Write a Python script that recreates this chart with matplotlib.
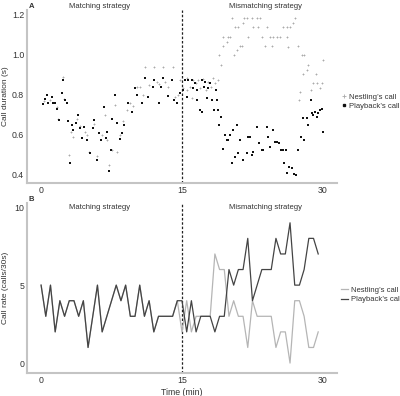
import matplotlib
matplotlib.use("Agg")
from matplotlib import pyplot as plt
from matplotlib.lines import Line2D
import numpy as np

plt.rcParams["font.family"] = ["Liberation Sans", "DejaVu Sans"]

# ---- panel A: call duration (s) ----
playback_t = [0.18, 0.43, 0.6, 0.78, 1.13, 1.31, 1.52, 1.74, 1.91, 2.27, 2.38, 2.55, 2.73, 2.91,
              3.09, 3.26, 3.44, 3.72, 3.97, 4.15, 4.33, 4.57, 4.93, 5.21, 5.5, 5.67, 5.92, 6.13,
              6.35, 6.74, 6.91, 7.06, 7.23, 7.41, 7.59, 7.84, 8.12, 8.4, 8.62, 8.83, 9.22, 9.65,
              10.0, 10.25, 10.71, 11.1, 11.42, 11.88, 12.06, 12.52, 12.73, 13.01, 13.55, 13.9,
              14.15, 14.43, 14.79, 15.07, 15.32, 15.5, 15.67, 16.03, 16.2, 16.38, 16.56, 16.63,
              16.91, 17.09, 17.15, 17.34, 17.45, 17.62, 17.8, 17.98, 18.16, 18.4, 18.62, 18.76,
              18.87, 18.97, 19.11, 19.33, 19.57, 19.75, 19.93, 20.1, 20.28, 20.46, 20.64, 20.82,
              20.99, 21.17, 21.52, 21.88, 22.06, 22.23, 22.41, 22.59, 22.94, 23.23, 23.48, 23.65,
              24.0, 24.18, 24.36, 24.72, 24.89, 25.14, 25.35, 25.5, 25.71, 25.85, 26.06, 26.21,
              26.42, 26.67, 26.91, 27.13, 27.38, 27.62, 27.84, 27.98, 28.26, 28.44, 28.69, 28.79,
              28.97, 29.15, 29.33, 29.5, 29.68, 29.86, 30.04]
playback_dur = [0.755, 0.78, 0.80, 0.76, 0.79, 0.76, 0.76, 0.73, 0.675, 0.81, 0.875, 0.775, 0.76, 0.67,
                0.46, 0.65, 0.625, 0.66, 0.70, 0.635, 0.585, 0.64, 0.575, 0.51, 0.635, 0.675, 0.475, 0.61,
                0.575, 0.74, 0.585, 0.615, 0.42, 0.525, 0.68, 0.80, 0.66, 0.58, 0.61, 0.65, 0.76, 0.715,
                0.835, 0.80, 0.76, 0.885, 0.79, 0.84, 0.875, 0.76, 0.84, 0.885, 0.795, 0.875,
                0.775, 0.76, 0.81, 0.825, 0.875, 0.79, 0.875, 0.875, 0.835, 0.86, 0.775, 0.825,
                0.725, 0.715, 0.875, 0.84, 0.865, 0.785, 0.835, 0.86, 0.775, 0.725, 0.825, 0.775,
                0.725, 0.65, 0.69, 0.53, 0.60, 0.575, 0.575, 0.60, 0.46, 0.625, 0.49, 0.65,
                0.51, 0.575, 0.475, 0.51, 0.59, 0.59, 0.50, 0.517, 0.64, 0.56, 0.525, 0.525,
                0.64, 0.59, 0.54, 0.625, 0.567, 0.567, 0.56, 0.525, 0.525, 0.46, 0.525, 0.41,
                0.44, 0.435, 0.405, 0.40, 0.525, 0.59, 0.685, 0.575, 0.685, 0.65, 0.775, 0.71,
                0.70, 0.717, 0.69, 0.71, 0.725, 0.73, 0.617]

nestling_t = [0.36, 0.96, 1.67, 1.85, 2.38, 2.45, 3.02, 3.19, 3.44, 3.86, 4.15, 4.68, 4.93, 5.14,
              5.67, 5.92, 6.45, 6.81, 7.06, 7.27, 7.52, 7.87, 8.12, 8.4, 8.76, 9.11, 9.47, 9.82,
              10.18, 10.53, 10.82, 11.06, 11.49, 12.02, 12.3, 12.59, 13.01, 13.19, 13.55, 14.01,
              14.26, 14.61, 14.79, 15.14, 15.5, 15.57, 15.85, 16.03, 16.2, 16.49, 16.74, 16.91,
              17.2, 17.55, 17.8, 18.05, 18.33, 18.51, 18.87, 18.97, 19.11, 19.33, 19.4, 19.75,
              19.93, 20.1, 20.28, 20.53, 20.64, 20.82, 20.99, 21.17, 21.35, 21.52, 21.6, 21.88,
              22.06, 22.41, 22.59, 22.94, 23.12, 23.3, 23.48, 23.83, 24.0, 24.36, 24.54, 24.72,
              25.07, 25.43, 25.78, 26.13, 26.21, 26.31, 26.49, 26.84, 27.02, 27.38, 27.48, 27.55,
              27.73, 27.91, 27.98, 28.26, 28.44, 28.69, 28.97, 29.26, 29.33, 29.68, 29.86, 30.04]
nestling_dur = [0.77, 0.775, 0.74, 0.68, 0.89, 0.78, 0.50, 0.615, 0.59, 0.68, 0.645, 0.615, 0.60, 0.515,
                0.655, 0.495, 0.60, 0.70, 0.575, 0.45, 0.525, 0.75, 0.515, 0.60, 0.67, 0.725, 0.76, 0.745,
                0.84, 0.84, 0.80, 0.94, 0.85, 0.94, 0.865, 0.855, 0.94, 0.865, 0.84, 0.94,
                0.79, 0.80, 0.875, 0.835, 0.883, 0.825, 0.84, 0.783, 0.875, 0.86, 0.875, 0.833,
                0.878, 0.825, 0.867, 0.842, 0.883, 0.858, 0.875, 1.0, 0.95, 1.047, 1.092, 1.067,
                1.092, 1.092, 1.183, 1.0, 1.138, 1.025, 1.138, 1.047, 1.047, 1.158, 1.183, 1.183,
                1.092, 1.183, 1.138, 1.183, 1.138, 1.183, 1.092, 1.047, 1.138, 1.092, 1.047, 1.092,
                1.092, 1.092, 1.138, 1.138, 1.092, 1.042, 1.138, 1.158, 1.183, 1.047, 0.775, 0.817,
                1.0, 0.905, 1.0, 0.925, 0.95, 0.825, 0.858, 0.905, 0.858, 0.833, 0.858, 0.975]

# ---- panel B: call rate per 30 s bin ----
rate_time = np.arange(0, 30, 0.5)
nestling_rate = [5, 3, 5, 2, 4, 3, 4, 4, 3, 4, 1, 3, 5, 2, 3, 4, 5, 4, 5, 3,
                 3, 5, 3, 4, 2, 3, 3, 3, 3, 4,
                 2, 4, 2, 3, 3, 3, 3, 7, 6, 6, 3, 4, 3, 3, 1, 4, 3, 3, 3, 3,
                 1, 2, 2, 0, 4, 4, 3, 1, 1, 2]
playback_rate = [5, 3, 5, 2, 4, 3, 4, 4, 3, 4, 1, 3, 5, 2, 3, 4, 5, 4, 5, 3,
                 3, 5, 3, 4, 2, 3, 3, 3, 3, 4,
                 4, 2, 4, 2, 3, 3, 3, 2, 3, 3, 6, 5, 6, 6, 8, 4, 5, 6, 6, 6,
                 8, 7, 7, 9, 5, 5, 6, 8, 8, 7]

SPINE = "#c4c4c4"
TXT = "#333333"
FS = 5.5     # annotations / legend
TFS = 6.3    # tick labels
LFS = 6.0    # axis labels


def style_axis(ax):
    for side in ["top", "right"]:
        ax.spines[side].set_visible(False)
    for side in ["left", "bottom"]:
        ax.spines[side].set_color(SPINE)
        ax.spines[side].set_linewidth(1.5)
    ax.tick_params(length=0, labelsize=TFS, labelcolor=TXT, pad=2)
    ax.set_xlim(-1.5, 31.5)
    ax.set_xticks([0, 15, 30])
    ax.axvline(15, color="#222222", linestyle=(0, (2, 1.5)), linewidth=0.9)


fig = plt.figure(figsize=(4, 3.96), dpi=100)

# panel A
ax1 = fig.add_axes([0.0675, 0.538, 0.775, 0.437])
style_axis(ax1)
ax1.scatter(nestling_t, nestling_dur, s=3, marker="+", color="#aaaaaa", linewidths=0.6, zorder=2)
ax1.scatter(playback_t, playback_dur, s=2.5, marker="s", color="#111111", linewidths=0, zorder=3)
ax1.set_ylim(0.36, 1.225)
ax1.set_yticks([0.4, 0.6, 0.8, 1.0, 1.2])
ax1.set_yticklabels(["0.4", "0.6", "0.8", "1.0", "1.2"])
ax1.set_ylabel("Call duration (s)", fontsize=LFS, color=TXT)
ax1.yaxis.set_label_coords(-0.058, 0.5)
ax1.text(6.2, 1.0, "Matching strategy", transform=ax1.get_xaxis_transform(),
         ha="center", va="bottom", fontsize=FS, color=TXT)
ax1.text(23.9, 1.0, "Mismatching strategy", transform=ax1.get_xaxis_transform(),
         ha="center", va="bottom", fontsize=FS, color=TXT)
ax1.text(0.005, 1.0, "A", transform=ax1.transAxes, fontsize=FS, fontweight="bold",
         color=TXT, ha="left", va="bottom")
handles1 = [Line2D([], [], linestyle="none", marker="+", color="#aaaaaa", markersize=2.5, markeredgewidth=0.6),
            Line2D([], [], linestyle="none", marker="s", color="#111111", markersize=1.8)]
ax1.legend(handles1, ["Nestling\u2019s call", "Playback\u2019s call"], loc="center left",
           bbox_to_anchor=(1.0, 0.47), frameon=False, fontsize=FS, handlelength=0.8,
           handletextpad=0.3, labelspacing=0.25, borderpad=0, labelcolor=TXT)

# panel B
ax2 = fig.add_axes([0.0675, 0.058, 0.775, 0.429])
style_axis(ax2)
ax2.plot(rate_time, nestling_rate, color="#b5b5b5", linewidth=0.9, zorder=2)
ax2.plot(rate_time, playback_rate, color="#444444", linewidth=0.9, zorder=3)
ax2.set_ylim(-0.64, 10.26)
ax2.set_yticks([0, 5, 10])
ax2.set_ylabel("Call rate (calls/30s)", fontsize=LFS, color=TXT)
ax2.yaxis.set_label_coords(-0.058, 0.5)
ax2.set_xlabel("Time (min)", fontsize=TFS, color=TXT, labelpad=2)
ax2.text(6.2, 10.0, "Matching strategy", ha="center", va="center", fontsize=FS, color=TXT)
ax2.text(23.9, 10.0, "Mismatching strategy", ha="center", va="center", fontsize=FS, color=TXT)
ax2.text(0.005, 1.0, "B", transform=ax2.transAxes, fontsize=FS, fontweight="bold",
         color=TXT, ha="left", va="bottom")
handles2 = [Line2D([], [], color="#b5b5b5", linewidth=0.9),
            Line2D([], [], color="#444444", linewidth=0.9)]
ax2.legend(handles2, ["Nestling\u2019s call", "Playback\u2019s call"], loc="center left",
           bbox_to_anchor=(1.0, 0.46), frameon=False, fontsize=FS, handlelength=1.0,
           handletextpad=0.3, labelspacing=0.25, borderpad=0, labelcolor=TXT)

fig.savefig("out.png", dpi=100)
